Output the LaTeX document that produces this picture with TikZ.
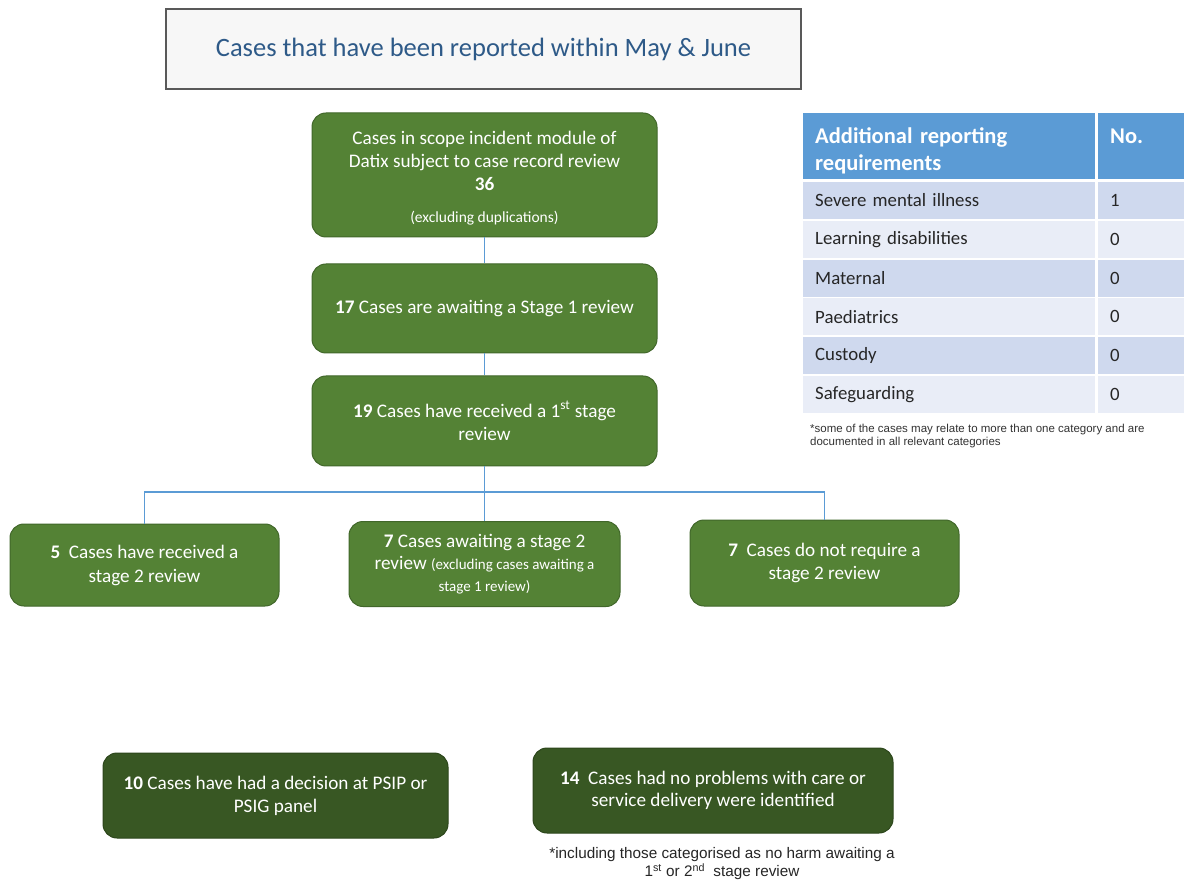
\documentclass[tikz,border=0pt]{standalone}
\usepackage{fontspec}
\setmainfont{Carlito}
\newfontfamily\arialfont{Liberation Sans}
\usetikzlibrary{positioning}
\definecolor{BoxGreen}{HTML}{548235}
\definecolor{BoxEdge}{HTML}{41672A}
\definecolor{DarkGreen}{HTML}{385723}
\definecolor{DarkEdge}{HTML}{2C461B}
\definecolor{LinkBlue}{HTML}{5B9BD5}
\definecolor{HeadBlue}{HTML}{5B9BD5}
\definecolor{RowDark}{HTML}{CFD9EE}
\definecolor{RowLight}{HTML}{E9EDF7}
\definecolor{TitleBlue}{HTML}{2E5A88}

\begin{document}
\begin{tikzpicture}[x=1pt, y=-1pt, node distance=26pt,
  g/.style={rectangle, rounded corners=14pt, draw=BoxEdge, line width=1pt, fill=BoxGreen, text=white, align=center, inner sep=0pt, font=\fontsize{19.2}{23}\selectfont},
  dg/.style={g, draw=DarkEdge, fill=DarkGreen},
  c/.style={rectangle, inner xsep=12pt, inner ysep=0pt, align=left, font=\fontsize{18.8}{22}\selectfont, text=black!85},
  hd/.style={c, fill=HeadBlue, text=white, font=\fontsize{22.5}{27}\selectfont\bfseries},
  ln/.style={draw=LinkBlue, line width=1.1pt}]
  \useasboundingbox[fill=white] (0,0) rectangle (1184,882);
  % title
  \node[draw=black!65, line width=1.6pt, fill=black!3, minimum width=635, minimum height=80, text=TitleBlue, font=\fontsize{26.5}{30}\selectfont] (title) at (483.5,49) {Cases that have been reported within May \& June};
  % flow
  \node[g, minimum width=345, minimum height=124] (scope) at (484.5,175) {\rule{0pt}{19pt}Cases in scope incident module of\\Datix subject to case record review\\\textbf{36}\\[9pt]{\fontsize{15.5}{17}\selectfont (excluding duplications)}};
  \node[g, minimum width=345, minimum height=89, below=26pt of scope] (await1) {\textbf{17} Cases are awaiting a Stage 1 review};
  \node[g, minimum width=345, minimum height=90, below=22pt of await1] (stage1) {\textbf{19} Cases have received a 1\textsuperscript{st} stage\\review};
  \node[g, minimum width=269, minimum height=82] (got2) at (144.5,565) {\textbf{5}\ \ Cases have received a\\[1pt]stage 2 review};
  \node[g, minimum width=271, minimum height=85] (await2) at (484.5,564) {\textbf{7} Cases awaiting a stage 2\\[-1pt]review {\fontsize{15}{22}\selectfont(excluding cases awaiting a}\\[-1pt]{\fontsize{15}{22}\selectfont stage 1 review)}};
  \node[g, minimum width=269, minimum height=86] (nostage2) at (824.5,563) {\textbf{7}\ \ Cases do not require a\\stage 2 review};
  \node[dg, minimum width=345, minimum height=85] (panel) at (275.5,795.5) {\textbf{10} Cases have had a decision at PSIP or\\PSIG panel};
  \node[dg, minimum width=360, minimum height=85] (noprob) at (713,790.5) {\textbf{14}\ \ Cases had no problems with care or\\[-1pt]service delivery were identified};
  \node[font=\arialfont\fontsize{15.3}{18}\selectfont, align=center, text=black!85] (incl) at (722,864) {*including those categorised as no harm awaiting a\\1\textsuperscript{st} or 2\textsuperscript{nd}\ \ stage review};
  % links
  \coordinate (split) at (484.5,492);
  \draw[ln] (scope) -- (await1);
  \draw[ln] (await1) -- (stage1);
  \draw[ln] (stage1) -- (split);
  \draw[ln] (split) -| (got2);
  \draw[ln] (split) -- (await2);
  \draw[ln] (split) -| (nostage2);
  % table
  \node[hd, minimum width=292, minimum height=66, text width=268, anchor=north west] (hcat) at (803,113) {\rule{0pt}{25pt}Additional reporting\\requirements};
  \node[hd, minimum width=86, minimum height=66, text width=62, anchor=north west] (hno) at (1098,113) {\rule{0pt}{25pt}No.\\\phantom{req}};
  \foreach \cat/\num [count=\i] in {Severe mental illness/1, Learning disabilities/0, Maternal/0, Paediatrics/0, Custody/0, Safeguarding/0} {
    \ifodd\i \def\rc{RowDark}\else\def\rc{RowLight}\fi
    \pgfmathsetmacro\yy{200.5+38.8*(\i-1)}
    \node[c, fill=\rc, minimum height=37, text width=268, anchor=west] (cat\i) at (803,\yy) {\cat};
    \node[c, fill=\rc, minimum height=37, text width=62, anchor=west] (num\i) at (1098,\yy) {\num};
  }
  \node[anchor=north west, inner sep=0pt, align=left, text=black!80, font=\arialfont\fontsize{11.5}{13}\selectfont] (tnote) at (810,424) {*some of the cases may relate to more than one category and are\\documented in all relevant categories};
\end{tikzpicture}
\end{document}
